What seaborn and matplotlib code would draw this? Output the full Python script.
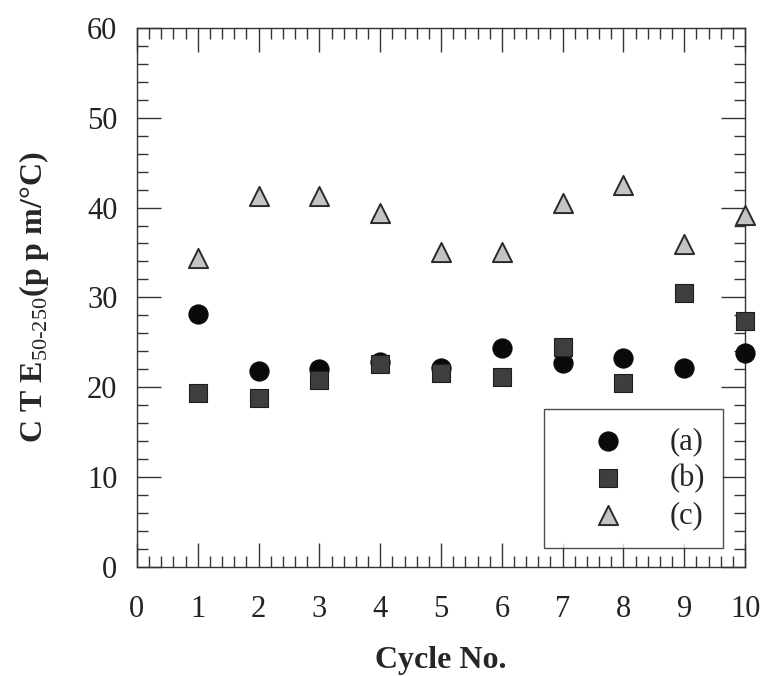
import numpy as np
import pandas as pd
import seaborn as sns
import matplotlib.pyplot as plt
from matplotlib.ticker import MultipleLocator

cycles = [1, 2, 3, 4, 5, 6, 7, 8, 9, 10]
cte_a = [28.2, 21.8, 22.0, 22.8, 22.2, 24.4, 22.7, 23.3, 22.1, 23.8]
cte_b = [19.4, 18.8, 20.8, 22.6, 21.6, 21.2, 24.5, 20.5, 30.5, 27.4]
cte_c = [34.4, 41.3, 41.3, 39.4, 35.0, 35.0, 40.5, 42.5, 35.9, 39.2]
series_labels = ['(a)', '(b)', '(c)']

sns.set_theme(style='ticks')
plt.rcParams['font.family'] = ['Liberation Serif', 'DejaVu Serif']
plt.rcParams['mathtext.fontset'] = 'custom'
plt.rcParams['mathtext.rm'] = 'Liberation Serif'

fig = plt.figure(figsize=(7.65, 6.76), dpi=100)
ax = fig.add_axes([0.179, 0.161, 0.795, 0.798])

styles = [
    dict(marker='o', color='#0a0a0a', edgecolor='#0a0a0a', s=190, linewidth=0.8),
    dict(marker='s', color='#3e3e3e', edgecolor='#1e1e1e', s=150, linewidth=0.8),
    dict(marker='^', color='#c4c4c4', edgecolor='#2a2a2a', s=190, linewidth=1.4),
]

for vals, lab, st in zip([cte_a, cte_b, cte_c], series_labels, styles):
    df = pd.DataFrame({'cycle': cycles, 'cte': vals})
    sns.scatterplot(data=df, x='cycle', y='cte', ax=ax, label=lab,
                    clip_on=False, zorder=3, **st)

ax.set_xlim(0, 10)
ax.set_ylim(0, 60)
ax.xaxis.set_major_locator(MultipleLocator(1))
ax.xaxis.set_minor_locator(MultipleLocator(0.2))
ax.yaxis.set_major_locator(MultipleLocator(10))
ax.yaxis.set_minor_locator(MultipleLocator(2))
ax.tick_params(which='both', direction='in', top=True, right=True,
               color='#333333', labelsize=22, labelcolor='#222222')
ax.tick_params(which='major', length=17, width=1.0, pad=14)
ax.tick_params(axis='x', which='major', pad=20)
ax.tick_params(which='minor', length=8, width=1.0)
for sp in ax.spines.values():
    sp.set_color('#333333')
    sp.set_linewidth(1.0)

ax.set_xlabel('Cycle No.', fontsize=23, fontweight='bold', labelpad=16)
ax.set_ylabel(r'C T E$_{\mathrm{50\text{-}250}}$(p p m/°C)', fontsize=23,
              fontweight='bold', labelpad=26)

leg = ax.legend(loc='lower right', bbox_to_anchor=(0.964, 0.035),
                borderaxespad=0, fontsize=22, frameon=True, fancybox=False,
                handlelength=3.0, handletextpad=0.5, borderpad=0.6,
                labelspacing=0.25)
leg.get_frame().set_edgecolor('#222222')
leg.get_frame().set_linewidth(1.0)

fig.savefig('out.png', dpi=100)
